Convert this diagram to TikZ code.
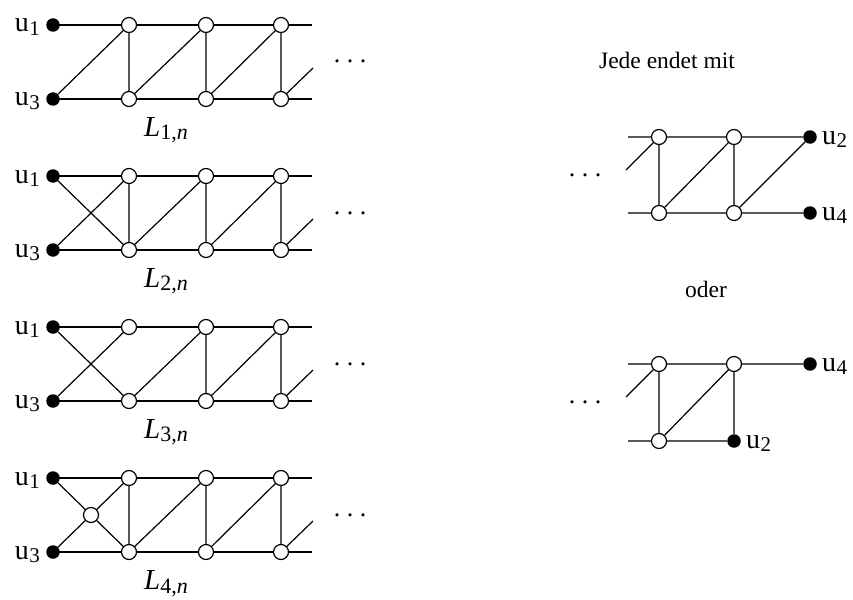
\documentclass[tikz,border=0pt]{standalone}
\usepackage{fontspec}
\setmainfont{Liberation Serif}
\begin{document}
\begin{tikzpicture}[x=1pt,y=-1pt,
  every node/.style={font=\fontsize{20.5}{22}\selectfont},
  bigtext/.style={font=\fontsize{23.5}{25}\selectfont},
  dotsty/.style={font=\fontsize{26}{27}\selectfont,inner sep=0pt},
  ov/.style={circle,draw,fill=white,line width=1.2pt,minimum size=15pt,inner sep=0pt},
  fv/.style={circle,fill=black,minimum size=13.5pt,inner sep=0pt},
  edge/.style={line width=1.2pt},
  lbl/.style={inner sep=0pt}]
\useasboundingbox (0,0) rectangle (853,599);
\newcommand{\mydots}{.\kern6.5pt.\kern6.5pt.}
\newcommand{\ulab}[1]{{\fontsize{28}{29}\selectfont u\kern0.5pt\raisebox{-0.3ex}{\fontsize{21}{22}\selectfont #1}}}
\newcommand{\ladlabel}[1]{{\fontsize{29}{30}\selectfont\textit{L}\raisebox{-0.3ex}{\fontsize{22}{23}\selectfont #1,\textit{n}}}}
% ---- common right part of the left ladders
\foreach \k/\T in {1/25,2/176,3/327,4/478}{
  \coordinate (a\k) at (53,\T);
  \coordinate (b\k) at (53,\T+74);
  \coordinate (t1\k) at (129,\T);
  \coordinate (t2\k) at (206,\T);
  \coordinate (t3\k) at (281,\T);
  \coordinate (c1\k) at (129,\T+74);
  \coordinate (c2\k) at (206,\T+74);
  \coordinate (c3\k) at (281,\T+74);
  \coordinate (et\k) at (312,\T);
  \coordinate (eb\k) at (312,\T+74);
  \coordinate (es\k) at (313,\T+43);
  \draw[edge] (a\k) -- (t1\k) -- (t2\k) -- (t3\k) -- (et\k);
  \draw[edge] (b\k) -- (c1\k) -- (c2\k) -- (c3\k) -- (eb\k);
  \draw[edge] (c1\k) -- (t2\k) -- (c2\k) -- (t3\k) -- (c3\k) -- (es\k);
  \node[dotsty,anchor=base] (d\k) at (350,\T+38) {\mydots};
  \node[lbl,anchor=base] (L\k) at (166,\T+111) {\ladlabel{\k}};
  \node[lbl,anchor=base east] (ua\k) at (40,\T+7) {\ulab{1}};
  \node[lbl,anchor=base east] (ub\k) at (40,\T+81) {\ulab{3}};
}
% ---- specific left parts
\draw[edge] (b1) -- (t11) -- (c11);
\draw[edge] (a2) -- (c12) (b2) -- (t12) (t12) -- (c12);
\draw[edge] (a3) -- (c13) (b3) -- (t13);
\coordinate (m4) at (91,515);
\draw[edge] (a4) -- (m4) -- (c14) (b4) -- (m4) -- (t14) (t14) -- (c14);
% ---- vertices
\foreach \k in {1,2,3,4}{
  \node[fv] (A\k) at (a\k) {};
  \node[fv] (B\k) at (b\k) {};
  \foreach \v in {t1,t2,t3,c1,c2,c3}{ \node[ov] (\v\k n) at (\v\k) {}; }
}
\node[ov] (M4) at (m4) {};
% ---- right part
\node[bigtext,anchor=base] (jede) at (667,69) {Jede endet mit};
\node[bigtext,anchor=base] (oder) at (706,297) {oder};
% first ending
\coordinate (rs1) at (628,137);
\coordinate (rs2) at (628,213);
\coordinate (rs3) at (626,170);
\node[ov] (r1) at (659,137) {};
\node[ov] (r2) at (734,137) {};
\node[fv] (r3) at (810,137) {};
\node[ov] (r4) at (659,213) {};
\node[ov] (r5) at (734,213) {};
\node[fv] (r6) at (810,213) {};
\draw[edge] (rs1) -- (r1) (r1) -- (r2) (r2) -- (r3)
  (rs2) -- (r4) (r4) -- (r5) (r5) -- (r6)
  (rs3) -- (r1) (r1) -- (r4) (r4) -- (r2) (r2) -- (r5) (r5) -- (r3);
\node[anchor=base west,lbl] (lu2a) at (822,144) {\ulab{2}};
\node[anchor=base west,lbl] (lu4a) at (822,220) {\ulab{4}};
\node[dotsty,anchor=base] (dr1) at (585,176) {\mydots};
% second ending
\coordinate (qs1) at (628,364);
\coordinate (qs2) at (628,441);
\coordinate (qs3) at (626,397);
\node[ov] (q1) at (659,364) {};
\node[ov] (q2) at (734,364) {};
\node[fv] (q3) at (810,364) {};
\node[ov] (q4) at (659,441) {};
\node[fv] (q5) at (734,441) {};
\draw[edge] (qs1) -- (q1) (q1) -- (q2) (q2) -- (q3)
  (qs2) -- (q4) (q4) -- (q5)
  (qs3) -- (q1) (q1) -- (q4) (q4) -- (q2) (q2) -- (q5);
\node[anchor=base west,lbl] (lu4b) at (822,371) {\ulab{4}};
\node[anchor=base west,lbl] (lu2b) at (746,448) {\ulab{2}};
\node[dotsty,anchor=base] (dr2) at (585,403) {\mydots};
\end{tikzpicture}
\end{document}
